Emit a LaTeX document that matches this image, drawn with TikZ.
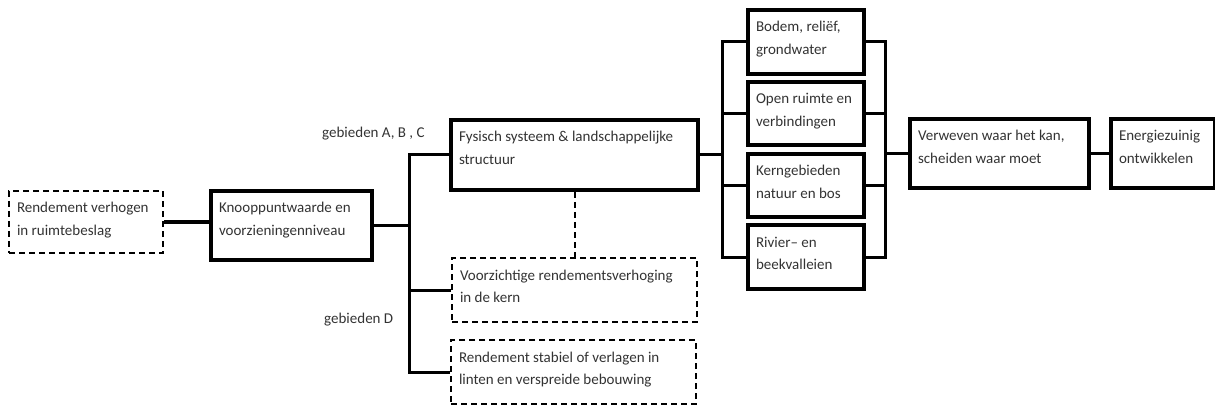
\documentclass[tikz,border=0pt]{standalone}
\usepackage{fontspec}
\setmainfont{Carlito}
\newcommand{\bx}[3]{\parbox[c][#2pt][t]{\dimexpr#1pt-16pt\relax}{\rule{0pt}{22pt}#3}}
\begin{document}
\begin{tikzpicture}[x=1pt,y=-1pt,
  every node/.style={font=\fontsize{15}{22.5}\selectfont, text=black!80},
  box/.style={draw=black, line width=4pt, inner xsep=8pt, inner ysep=0pt, anchor=north west, fill=white},
  dbox/.style={draw=black, line width=2pt, dash pattern=on 6pt off 4pt, inner xsep=8pt, inner ysep=0pt, anchor=north west, fill=white},
  conn/.style={draw=black, line width=3pt},
  dconn/.style={draw=black, line width=2pt, dash pattern=on 6pt off 4pt},
  lbl/.style={anchor=west, inner sep=0pt}]
\useasboundingbox (0,0) rectangle (1215,406);

% nodes
\node[dbox] (rv) at (8,190) {\bx{154}{62}{\mbox{Rendement verhogen}\\\mbox{in ruimtebeslag}}};
\node[box] (kn) at (209,189) {\bx{161}{69}{\mbox{Knooppuntwaarde en}\\\mbox{voorzieningenniveau}}};
\node[box] (fy) at (449,118) {\bx{247}{70}{\mbox{Fysisch systeem \& landschappelijke}\\\mbox{structuur}}};
\node[dbox] (vz) at (451,257) {\bx{245}{64}{\mbox{Voorzichtige rendementsverhoging}\\\mbox{in de kern}}};
\node[dbox] (rs) at (450,339) {\bx{245}{64}{\mbox{Rendement stabiel of verlagen in}\\\mbox{linten en verspreide bebouwing}}};
\node[box] (bo) at (746,8) {\bx{116}{64}{\mbox{Bodem, reliëf,}\\\mbox{grondwater}}};
\node[box] (op) at (746,80) {\bx{116}{63}{\mbox{Open ruimte en}\\\mbox{verbindingen}}};
\node[box] (ke) at (746,152) {\bx{116}{63}{\mbox{Kerngebieden}\\\mbox{natuur en bos}}};
\node[box] (ri) at (746,223) {\bx{116}{64}{\mbox{Rivier\textendash{} en}\\\mbox{beekvalleien}}};
\node[box] (ve) at (908,117) {\bx{179}{69}{\mbox{Verweven waar het kan,}\\\mbox{scheiden waar moet}}};
\node[box] (en) at (1109,117) {\bx{104}{69}{\mbox{Energiezuinig}\\\mbox{ontwikkelen}}};

\node[lbl] (la) at (322,134) {gebieden A, B , C};
\node[lbl] (ld) at (324,320) {gebieden D};

% trunk coordinates
\coordinate (tr) at (409,0);
\coordinate (lb) at (722,0);
\coordinate (rb) at (885,0);

% connectors
\begin{scope}[on background layer/.style={}]
\draw[conn] (rv.east) -- (kn.west |- rv.east);
\draw[conn] (kn.east) -- (kn.east -| tr);
\draw[conn] (fy.west) -- (fy.west -| tr) -- (rs.west -| tr) -- (rs.west);
\draw[conn] (vz.west) -- (vz.west -| tr);
\draw[dconn] (fy.south) -- (fy.south |- vz.north);

\draw[conn] (fy.east) -- (fy.east -| lb);
\draw[conn] (bo.west) -- (bo.west -| lb) -- (ri.west -| lb) -- (ri.west);
\draw[conn] (op.west) -- (op.west -| lb);
\draw[conn] (ke.west) -- (ke.west -| lb);
\draw[conn] (bo.east) -- (bo.east -| rb) -- (ri.east -| rb) -- (ri.east);
\draw[conn] (op.east) -- (op.east -| rb);
\draw[conn] (ke.east) -- (ke.east -| rb);
\draw[conn] (ve.west) -- (ve.west -| rb);
\draw[conn] (ve.east) -- (en.west);
\end{scope}
\end{tikzpicture}
\end{document}
